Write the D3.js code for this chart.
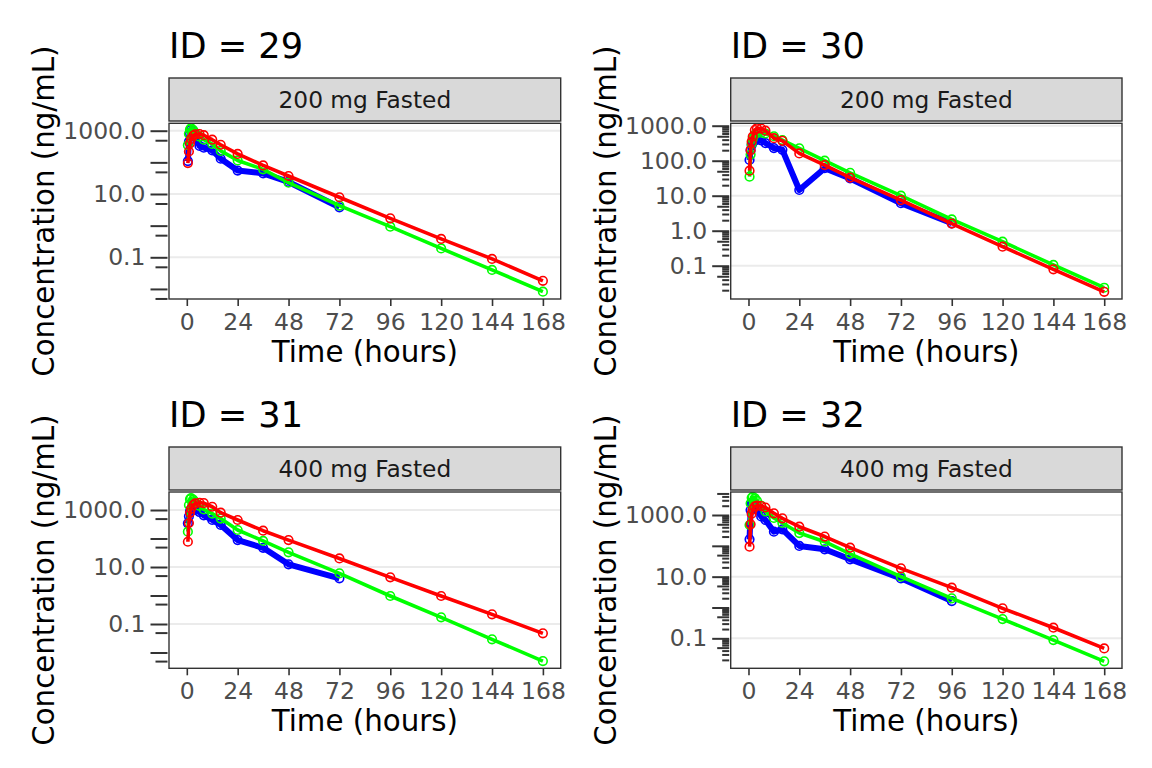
<!DOCTYPE html>
<html>
<head>
<meta charset="utf-8">
<title>PK profiles</title>
<script src="https://d3js.org/d3.v7.min.js"></script>
<style>
  body { margin: 0; background: #fff; }
  svg { display: block; font-family: "DejaVu Sans", sans-serif; }
</style>
</head>
<body>
<svg id="chart" width="1152" height="768"></svg>
<script>
// sampling times (hours)
const times = [0.5, 1, 1.5, 2, 3, 4, 6, 8, 12, 16, 24, 36, 48, 72, 96, 120, 144, 168];
const xTicks = [0, 24, 48, 72, 96, 120, 144, 168];

const panelIds = [29, 30, 31, 32];
const panelDoses = ["200 mg Fasted", "200 mg Fasted", "400 mg Fasted", "400 mg Fasted"];

// observed (blue) - shorter than the time list when sampling stopped early
const blue29 = [110, 450, 800, 1050, 1000, 650, 330, 290, 240, 130, 55, 45, 24, 3.8];
const blue30 = [105, 200, 280, 330, 380, 400, 380, 320, 230, 205, 14.6, 61, 31, 6.1, 1.63];
const blue31 = [340, 600, 900, 1100, 1140, 1000, 850, 650, 450, 300, 88, 47, 12.4, 4.0];
const blue32 = [163, 1450, 2300, 2600, 2200, 1500, 900, 690, 288, 343, 99, 77, 36.5, 8.8, 1.62];

// model curves
const green29 = [350, 800, 1100, 1200, 1050, 850, 650, 520, 380, 230, 115, 60, 22.7, 4.3, 0.93, 0.19, 0.04, 0.0082];
const green30 = [35, 150, 300, 420, 560, 620, 630, 600, 500, 390, 226, 100, 45, 10, 2.1, 0.485, 0.105, 0.0235];
const green31 = [174, 1500, 2400, 2600, 2300, 1900, 1400, 1050, 750, 500, 199, 82, 32.7, 6.0, 0.96, 0.171, 0.029, 0.005];
const green32 = [474, 2400, 3600, 3900, 3500, 2900, 2000, 1300, 800, 550, 260, 136, 55, 10, 1.99, 0.42, 0.088, 0.018];

const red29 = [95, 220, 400, 550, 700, 770, 780, 720, 520, 360, 185, 80, 37, 7.9, 1.7, 0.38, 0.089, 0.018];
const red30 = [52, 200, 350, 485, 750, 850, 830, 720, 440, 370, 162, 75, 33, 7.5, 1.6, 0.35, 0.079, 0.018];
const red31 = [77, 350, 800, 1100, 1500, 1700, 1800, 1750, 1300, 805, 446, 188, 88, 20, 4.35, 0.96, 0.218, 0.047];
const red32 = [94, 500, 1100, 1500, 1900, 2000, 1950, 1750, 1135, 780, 417, 200, 87, 18.6, 4.4, 0.94, 0.221, 0.047];

// labelled y ticks per panel
const yLabels29 = [1000, 10, 0.1];
const yLabels30 = [1000, 100, 10, 1, 0.1];
const yLabels31 = [1000, 10, 0.1];
const yLabels32 = [1000, 10, 0.1];

const blues = [blue29, blue30, blue31, blue32];
const greens = [green29, green30, green31, green32];
const reds = [red29, red30, red31, red32];
const yLabels = [yLabels29, yLabels30, yLabels31, yLabels32];

// panel geometry (pixels) and log10 y-limits
const layout = [
  { left: 169, right: 560.7, top: 123.3, bottom: 299, stripTop: 78, stripBottom: 121, yLog: [-2.318, 3.234], fullTicks: false },
  { left: 730.7, right: 1122, top: 123.3, bottom: 299, stripTop: 78, stripBottom: 121, yLog: [-1.951, 3.069], fullTicks: true },
  { left: 169, right: 560.7, top: 492, bottom: 668.3, stripTop: 447, stripBottom: 490, yLog: [-2.554, 3.632], fullTicks: false },
  { left: 730.7, right: 1122, top: 492, bottom: 668.3, stripTop: 447, stripBottom: 490, yLog: [-1.972, 3.746], fullTicks: true }
];

const svg = d3.select("#chart");
svg.append("rect").attr("width", 1152).attr("height", 768).attr("fill", "#fff");

const fmt = d3.format(".1f");

layout.forEach((p, i) => {
  const g = svg.append("g");
  const x = d3.scaleLinear().domain([-8.4, 176.4]).range([p.left, p.right]);
  const y = d3.scaleLog()
    .domain([Math.pow(10, p.yLog[0]), Math.pow(10, p.yLog[1])])
    .range([p.bottom, p.top]);

  // title
  g.append("text")
    .attr("x", p.left).attr("y", p.stripTop - 20)
    .attr("font-size", 35.2).attr("fill", "#000")
    .text("ID = " + panelIds[i]);

  // strip
  g.append("rect")
    .attr("x", p.left).attr("y", p.stripTop)
    .attr("width", p.right - p.left).attr("height", p.stripBottom - p.stripTop)
    .attr("fill", "#d9d9d9").attr("stroke", "#333").attr("stroke-width", 1.4);
  g.append("text")
    .attr("x", (p.left + p.right) / 2).attr("y", (p.stripTop + p.stripBottom) / 2)
    .attr("dy", "0.36em").attr("text-anchor", "middle")
    .attr("font-size", 23.3).attr("fill", "#1a1a1a")
    .text(panelDoses[i]);

  // horizontal grid at labelled breaks
  g.selectAll(".grid")
    .data(yLabels[i])
    .join("line")
    .attr("x1", p.left).attr("x2", p.right)
    .attr("y1", d => y(d)).attr("y2", d => y(d))
    .attr("stroke", "#ebebeb").attr("stroke-width", 2);

  // log ticks: long at 10^k, mid at 5*10^k, short at the rest
  const lo = Math.floor(p.yLog[0]), hi = Math.ceil(p.yLog[1]);
  const longT = [], midT = [], shortT = [];
  for (let k = lo; k <= hi; k++) {
    for (let m = 1; m <= 9; m++) {
      const v = m * Math.pow(10, k);
      const lv = Math.log10(v);
      if (lv < p.yLog[0] || lv > p.yLog[1]) continue;
      if (m === 1) longT.push(v);
      else if (m === 5) midT.push(v);
      else if (p.fullTicks) shortT.push(v);
    }
  }
  const labelSet = yLabels[i].map(v => Math.log10(v).toFixed(3));
  const axisX = p.left - 1.5;

  const drawTicks = (vals, size, withText) => {
    const ax = d3.axisLeft(y).tickValues(vals).tickSize(size).tickPadding(5)
      .tickFormat(d => withText && labelSet.includes(Math.log10(d).toFixed(3)) ? fmt(d) : "");
    const a = g.append("g").attr("transform", `translate(${axisX},0)`).call(ax);
    a.select(".domain").remove();
    a.selectAll("line").attr("stroke", "#333").attr("stroke-width", 2);
    a.selectAll("text").attr("font-size", 23.5).attr("fill", "#4d4d4d")
      .attr("font-family", "DejaVu Sans");
  };
  drawTicks(shortT, 7, false);
  drawTicks(midT, 12, false);
  drawTicks(longT, 17, true);

  // x axis
  const xa = g.append("g").attr("transform", `translate(0,${p.bottom})`)
    .call(d3.axisBottom(x).tickValues(xTicks).tickSize(7).tickPadding(7));
  xa.select(".domain").remove();
  xa.selectAll("line").attr("stroke", "#333").attr("stroke-width", 1.6);
  xa.selectAll("text").attr("font-size", 23.5).attr("fill", "#4d4d4d")
    .attr("font-family", "DejaVu Sans");

  // axis titles
  g.append("text")
    .attr("x", (p.left + p.right) / 2).attr("y", p.bottom + 63)
    .attr("text-anchor", "middle").attr("font-size", 29.3).attr("fill", "#000")
    .text("Time (hours)");
  g.append("text")
    .attr("transform", `translate(${p.left - 115},${(p.top + p.bottom) / 2}) rotate(-90)`)
    .attr("text-anchor", "middle").attr("font-size", 29.3).attr("fill", "#000")
    .text("Concentration (ng/mL)");

  // data
  const clipId = "clip" + i;
  svg.append("clipPath").attr("id", clipId).append("rect")
    .attr("x", p.left).attr("y", p.top)
    .attr("width", p.right - p.left).attr("height", p.bottom - p.top);
  const dg = g.append("g").attr("clip-path", `url(#${clipId})`);

  const series = [
    { vals: blues[i], color: "#0000ff", width: 6 },
    { vals: greens[i], color: "#00ff00", width: 3.6 },
    { vals: reds[i], color: "#ff0000", width: 3.6 }
  ];
  const line = d3.line().x(d => x(d.t)).y(d => y(d.v));
  series.forEach(s => {
    const pts = s.vals.map((v, j) => ({ t: times[j], v: v }));
    dg.append("path").datum(pts)
      .attr("d", line).attr("fill", "none")
      .attr("stroke", s.color).attr("stroke-width", s.width)
      .attr("stroke-linejoin", "round");
    dg.selectAll(null).data(pts).join("circle")
      .attr("cx", d => x(d.t)).attr("cy", d => y(d.v)).attr("r", 4.3)
      .attr("fill", "none").attr("stroke", s.color).attr("stroke-width", 1.6);
  });

  // panel border
  g.append("rect")
    .attr("x", p.left).attr("y", p.top)
    .attr("width", p.right - p.left).attr("height", p.bottom - p.top)
    .attr("fill", "none").attr("stroke", "#333").attr("stroke-width", 1.4);
});
</script>
</body>
</html>
